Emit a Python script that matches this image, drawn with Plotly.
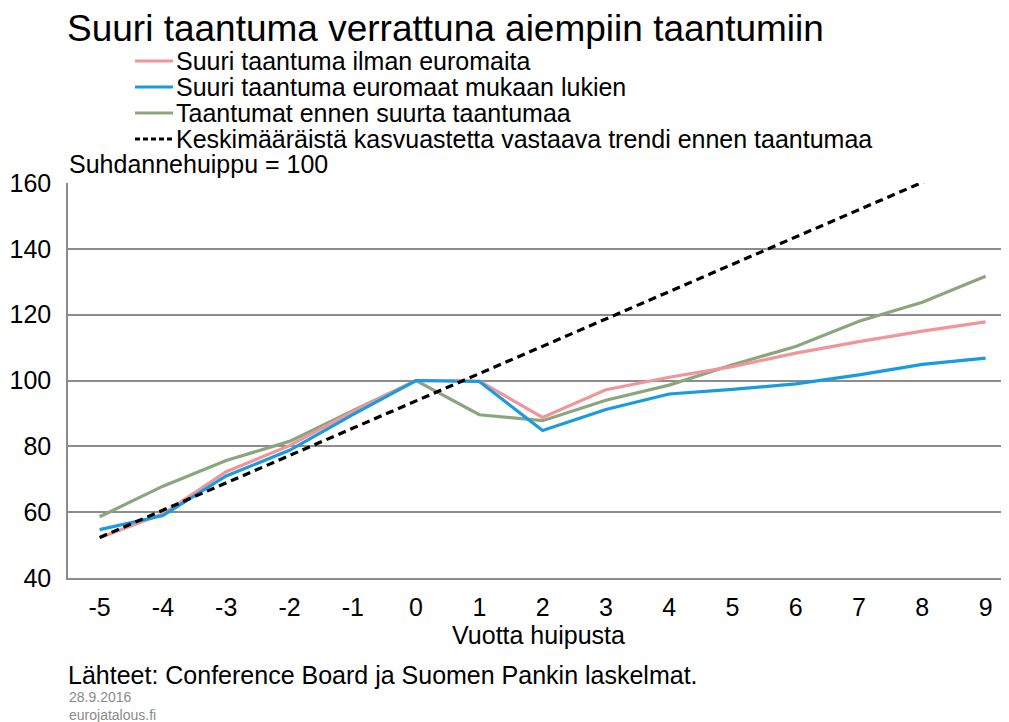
import plotly.graph_objects as go

years = [-5, -4, -3, -2, -1, 0, 1, 2, 3, 4, 5, 6, 7, 8, 9]
ilman_euromaita = [52.2, 59.5, 72.3, 80.2, 90.5, 100, 99.8, 88.8, 97.2, 101.0, 104.2, 108.3, 111.8, 115.0, 117.8]
euromaat_mukaan = [54.7, 59.0, 71.0, 78.8, 89.6, 100, 99.7, 84.8, 91.2, 95.9, 97.3, 99.0, 101.7, 104.9, 106.8]
aiemmat = [58.6, 67.9, 75.7, 81.5, 90.8, 100, 89.6, 87.8, 94.0, 98.6, 104.8, 110.3, 118.0, 123.8, 131.7]
trendi = [52.3, 60.6, 68.9, 77.2, 85.5, 93.8, 102.1, 110.4, 118.7, 127.0, 135.3, 143.6, 151.9, 160.2, 168.5]

names = [
    "Suuri taantuma ilman euromaita",
    "Suuri taantuma euromaat mukaan lukien",
    "Taantumat ennen suurta taantumaa",
    "Keskimääräistä kasvuastetta vastaava trendi ennen taantumaa",
]
colors = ["#f0969b", "#1a9be0", "#8ba57e", "#000000"]
dashes = ["solid", "solid", "solid", "8px,5px"]
series = [ilman_euromaita, euromaat_mukaan, aiemmat, trendi]

FONT = "Liberation Sans, Arial, sans-serif"

fig = go.Figure()
order = [2, 0, 1, 3]
for i in order:
    fig.add_trace(go.Scatter(
        x=years, y=series[i], mode="lines", name=names[i],
        line=dict(color=colors[i], width=3.2, dash=dashes[i]),
        showlegend=False,
    ))

# page body has an 8px margin: figure is sized so it fills the window exactly
OFF = 8
W, H = 1009 - OFF, 722 - OFF
ml, mr, mt, mb = 68 - OFF, 0, 183 - OFF, 144
pw, ph = W - ml - mr, H - mt - mb

def px_x(x):
    return (x - OFF - ml) / pw

def px_y(y):
    return (H - mb - (y - OFF)) / ph

leg_y = [61, 87, 113, 139]
shapes = []
annotations = []
for i, yy in enumerate(leg_y):
    shapes.append(dict(
        type="line", xref="paper", yref="paper",
        x0=px_x(135), x1=px_x(173), y0=px_y(yy), y1=px_y(yy),
        line=dict(color=colors[i], width=3, dash="5px,3px" if i == 3 else "solid"),
    ))
    annotations.append(dict(
        text=names[i], xref="paper", yref="paper",
        x=px_x(174), y=px_y(yy), xanchor="left", yanchor="middle",
        showarrow=False, font=dict(family=FONT, size=25, color="#000"),
    ))

annotations += [
    dict(text="Suhdannehuippu = 100", xref="paper", yref="paper",
         x=px_x(67), y=px_y(164), xanchor="left", yanchor="middle",
         showarrow=False, font=dict(family=FONT, size=25, color="#000")),
    dict(text="Lähteet: Conference Board ja Suomen Pankin laskelmat.", xref="paper", yref="paper",
         x=px_x(66), y=px_y(675), xanchor="left", yanchor="middle",
         showarrow=False, font=dict(family=FONT, size=25, color="#000")),
    dict(text="28.9.2016", xref="paper", yref="paper",
         x=px_x(67), y=px_y(697), xanchor="left", yanchor="middle",
         showarrow=False, font=dict(family=FONT, size=14, color="#8a8a8a")),
    dict(text="eurojatalous.fi", xref="paper", yref="paper",
         x=px_x(67), y=px_y(715), xanchor="left", yanchor="middle",
         showarrow=False, font=dict(family=FONT, size=14, color="#8a8a8a")),
]

fig.update_layout(
    width=W, height=H,
    margin=dict(l=ml, r=mr, t=mt, b=mb),
    paper_bgcolor="white", plot_bgcolor="white",
    font=dict(family=FONT, size=25, color="#000"),
    title=dict(text="Suuri taantuma verrattuna aiempiin taantumiin",
               x=(67 - OFF) / W, xanchor="left", y=1 - (28 - OFF) / H, yanchor="middle",
               font=dict(family=FONT, size=37, color="#000")),
    shapes=shapes,
    annotations=annotations,
    xaxis=dict(
        range=[-5.5, 9.37], tickmode="array", tickvals=years,
        ticktext=[str(v) for v in years],
        showgrid=False, zeroline=False,
        showline=True, linecolor="#8c8c8c", linewidth=1.5,
        ticks="", ticklabelstandoff=6,
        tickfont=dict(family=FONT, size=25, color="#000"),
        title=dict(text="Vuotta huipusta", standoff=4,
                   font=dict(family=FONT, size=25, color="#000")),
    ),
    yaxis=dict(
        range=[40, 160], tickmode="array", tickvals=[40, 60, 80, 100, 120, 140, 160],
        showgrid=True, gridcolor="#8c8c8c", gridwidth=1.5, zeroline=False,
        showline=True, linecolor="#8c8c8c", linewidth=1.5,
        ticks="", ticklabelstandoff=10,
        tickfont=dict(family=FONT, size=25, color="#000"),
    ),
)

fig.write_html("out.html")
